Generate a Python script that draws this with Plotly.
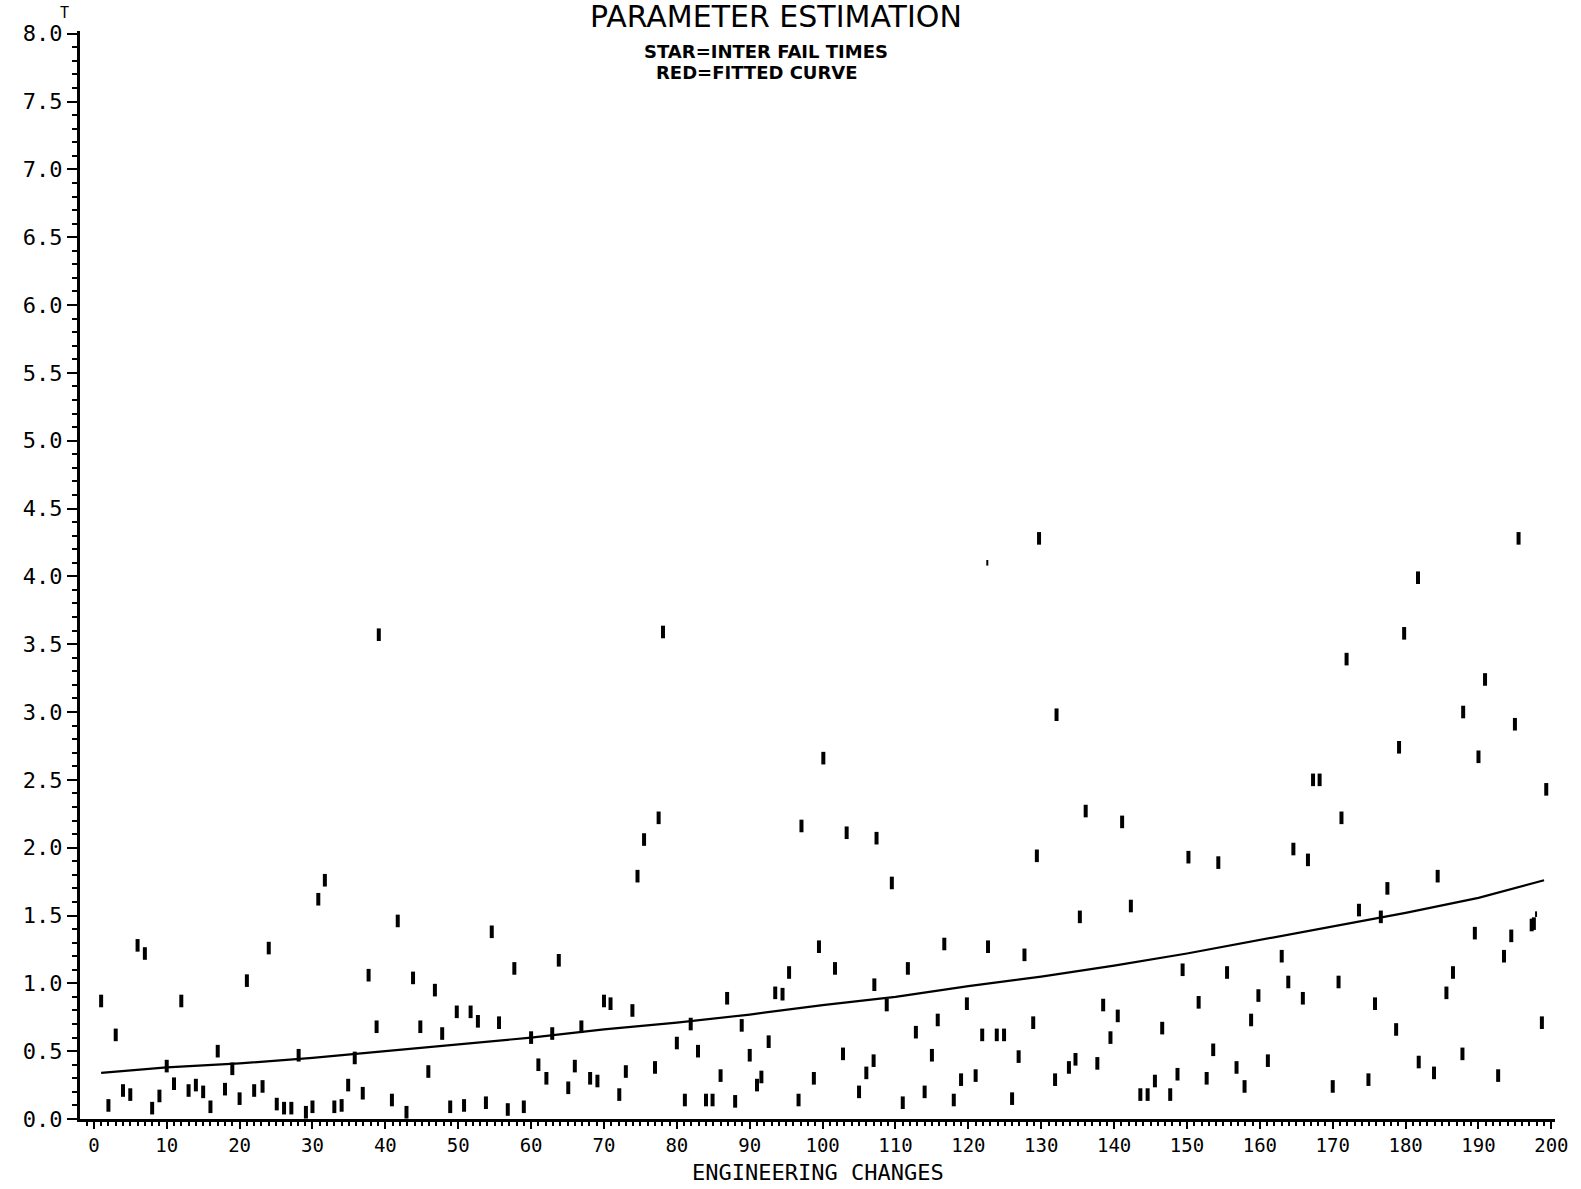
import plotly.graph_objects as go

# ---- data ----
x_star = [1, 2, 3, 4, 5, 6, 7, 8, 9, 10, 11, 12, 13, 14, 15, 16, 17, 18, 19, 20, 21, 22,
          23.15, 24, 25.1, 26.1, 27.1, 28.1, 29.1, 30, 30.8, 31.7, 33, 34, 34.9, 35.8, 36.9,
          37.7, 38.8, 39.1, 40.9, 41.7, 42.9, 43.8, 44.8, 45.9, 46.8, 47.8, 48.9, 49.8, 50.8,
          51.7, 52.7, 53.8, 54.6, 55.6, 56.8,
          57.7, 59.0, 60.0, 61.0, 62.1, 62.9, 63.8, 65.1, 66.0, 66.9, 68.1, 69.1, 70.0, 70.9,
          72.1, 73.0, 73.9, 74.6, 75.5, 77.0, 77.5, 78.1, 80.0, 81.1, 81.9, 82.9, 84.0, 84.9,
          86.0, 86.9, 88.0, 88.9, 90.0, 91.0,
          91.6, 92.6, 93.5, 94.5, 95.4, 96.7, 97.1, 98.8, 99.5, 100.1, 101.7, 102.8, 103.3,
          105.0, 106.0, 107.0, 107.1, 107.4, 108.8, 109.5, 111.0, 111.7, 112.8, 114.0, 115.0,
          115.8, 116.7, 118.0, 119.0, 119.8, 121.0, 121.9, 122.7, 123.9, 124.9,
          126.0, 126.9, 127.7, 128.9, 129.4, 129.7, 131.9, 132.1, 133.8, 134.7, 135.3, 136.1,
          137.7, 138.5, 139.5, 140.5, 141.1, 142.3, 143.6, 144.6, 145.6, 146.6, 147.7, 148.7,
          149.4, 150.2, 151.6, 152.7, 153.6, 154.3, 155.5, 156.8, 157.9, 158.8, 159.8,
          161.1, 163.0, 163.9, 164.6, 165.9, 166.6, 167.3, 168.2, 170.0, 170.8, 171.2, 171.9,
          173.6, 174.9, 175.8, 176.6, 177.5, 178.7, 179.1, 179.8, 181.7, 181.8, 183.9, 184.4,
          185.6, 186.5, 187.8, 187.9, 189.5, 190.0, 190.9, 192.7, 193.5, 194.5, 195.0, 195.5,
          197.3, 197.6, 198.7, 199.3]
y_star = [0.87, 0.10, 0.62, 0.21, 0.18, 1.28, 1.22, 0.08, 0.17, 0.39, 0.26, 0.87, 0.21, 0.25,
          0.20, 0.09, 0.50, 0.22, 0.37, 0.15, 1.02, 0.21,
          0.24, 1.26, 0.11, 0.08, 0.08, 0.47, 0.05, 0.09, 1.62, 1.76, 0.09, 0.10, 0.25, 0.45,
          0.19, 1.06, 0.68, 3.57, 0.14, 1.46, 0.05, 1.04, 0.68, 0.35, 0.95, 0.63, 0.09, 0.79,
          0.10, 0.79, 0.72, 0.12, 1.38, 0.71, 0.07,
          1.11, 0.09, 0.60, 0.40, 0.30, 0.63, 1.17, 0.23, 0.39, 0.68, 0.30, 0.28, 0.87, 0.85,
          0.18, 0.35, 0.80, 1.79, 2.06, 0.38, 2.22, 3.59, 0.56, 0.14, 0.70, 0.50, 0.14, 0.14,
          0.32, 0.89, 0.13, 0.69, 0.47, 0.25,
          0.31, 0.57, 0.93, 0.92, 1.08, 0.14, 2.16, 0.30, 1.27, 2.66, 1.11, 0.48, 2.11,
          0.20, 0.34, 0.43, 0.99, 2.07, 0.84, 1.74, 0.12, 1.11, 0.64, 0.20, 0.47,
          0.73, 1.29, 0.14, 0.29, 0.85, 0.32, 0.62, 1.27, 0.62, 0.62,
          0.15, 0.46, 1.21, 0.71, 1.94, 4.28, 0.29, 2.98, 0.38, 0.44, 1.49, 2.27,
          0.41, 0.84, 0.60, 0.76, 2.19, 1.57, 0.18, 0.18, 0.28, 0.67, 0.18, 0.33,
          1.10, 1.93, 0.86, 0.30, 0.51, 1.89, 1.08, 0.38, 0.24, 0.73, 0.91,
          0.43, 1.20, 1.01, 1.99, 0.89, 1.91, 2.50, 2.50, 0.24, 1.01, 2.22, 3.39,
          1.54, 0.29, 0.85, 1.49, 1.70, 0.66, 2.74, 3.58, 3.99, 0.42, 0.34, 1.79,
          0.93, 1.08, 0.48, 3.00, 1.37, 2.67, 3.24, 0.32, 1.20, 1.35, 2.91, 4.28,
          1.43, 1.44, 0.71, 2.43]

# faint stray marks (smaller than the stars)
x_stray = [122.6, 197.9]
y_stray = [4.10, 1.51]

curve_x = [1, 10, 20, 30, 40, 50, 60, 70, 80, 90, 100, 110, 120, 130, 140, 150, 160, 170, 180, 190, 199]
curve_y = [0.34, 0.38, 0.41, 0.45, 0.50, 0.55, 0.60, 0.66, 0.71, 0.77, 0.84, 0.90, 0.98,
           1.05, 1.13, 1.22, 1.32, 1.42, 1.52, 1.63, 1.76]

x_ticks = list(range(0, 201, 10))
x_tick_text = [str(v) for v in x_ticks]
y_ticks = [i * 0.5 for i in range(17)]
y_tick_text = ["%.1f" % v for v in y_ticks]

# ---- layout ----
W, H = 1581, 1189
L, R, T, B = 80, 24, 31, 70
PW, PH = W - L - R, H - T - B


def px_x(p):
    return (p - L) / PW


def px_y(p):
    return 1 - (p - T) / PH


MONO = "DejaVu Sans Mono"

fig = go.Figure()
fig.add_trace(go.Scatter(x=curve_x, y=curve_y, mode="lines",
                         line=dict(color="black", width=2.2), showlegend=False))
fig.add_trace(go.Scatter(x=x_star, y=y_star, mode="markers",
                         marker=dict(symbol="line-ns", size=9,
                                     line=dict(color="black", width=4)),
                         showlegend=False))
fig.add_trace(go.Scatter(x=x_stray, y=y_stray, mode="markers",
                         marker=dict(symbol="line-ns", size=4,
                                     line=dict(color="black", width=2)),
                         showlegend=False))

fig.update_layout(
    width=W, height=H,
    margin=dict(l=L, r=R, t=T, b=B),
    paper_bgcolor="white", plot_bgcolor="white",
    font=dict(family=MONO, color="black"),
    showlegend=False,
)

fig.update_xaxes(
    range=[-1.9, 200.5], tickmode="array", tickvals=x_ticks, ticktext=x_tick_text,
    ticks="outside", ticklen=7, tickwidth=2, tickcolor="black",
    minor=dict(ticks="outside", ticklen=4, dtick=1, tickwidth=1.5, tickcolor="black", showgrid=False),
    showline=True, linewidth=3, linecolor="black", showgrid=False, zeroline=False,
    tickfont=dict(family=MONO, size=19, color="black"),
)
fig.update_yaxes(
    range=[0, 8.02], tickmode="array", tickvals=y_ticks, ticktext=y_tick_text,
    ticks="outside", ticklen=10, tickwidth=2, tickcolor="black",
    minor=dict(ticks="outside", ticklen=5, dtick=0.1, tickwidth=1.5, tickcolor="black", showgrid=False),
    showline=True, linewidth=3, linecolor="black", showgrid=False, zeroline=False,
    tickfont=dict(family=MONO, size=22, color="black"),
)

annos = [
    dict(text="PARAMETER ESTIMATION", x=px_x(777), y=px_y(17),
         font=dict(family="DejaVu Sans", size=30, color="black")),
    dict(text="<b>STAR=INTER FAIL TIMES</b>", x=px_x(767), y=px_y(51),
         font=dict(family="DejaVu Sans", size=18, color="black")),
    dict(text="<b>RED=FITTED CURVE</b>", x=px_x(758), y=px_y(73),
         font=dict(family="DejaVu Sans", size=18, color="black")),
    dict(text="ENGINEERING CHANGES", x=px_x(819), y=px_y(1172),
         font=dict(family=MONO, size=22, color="black")),
    dict(text="T", x=px_x(64), y=px_y(13),
         font=dict(family=MONO, size=15, color="black")),
]
for a in annos:
    fig.add_annotation(xref="paper", yref="paper", showarrow=False,
                       xanchor="center", yanchor="middle", **a)

fig.write_html("out.html")
